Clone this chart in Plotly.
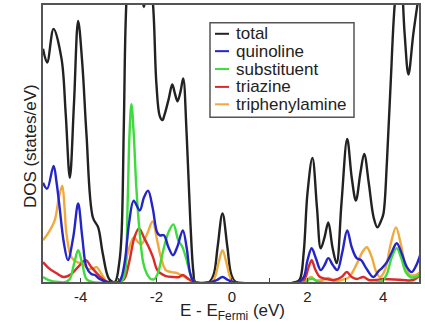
import plotly.graph_objects as go

# ---------------- data ----------------
series_names = ["total", "quinoline", "substituent", "triazine", "triphenylamine"]
series_colors = ["#222222", "#2424c8", "#3ddc3d", "#dc2a2a", "#f2a93b"]

E_total = [-5.0, -4.89, -4.72, -4.51, -4.40, -4.29, -4.18, -4.07, -3.96, -3.85, -3.68, -3.54,
           -3.42, -3.25, -3.10, -2.98, -2.92, -2.86, -2.79, -2.60, -2.45, -2.33, -2.22, -2.09,
           -2.00, -1.91, -1.84, -1.78, -1.67, -1.58, -1.51, -1.44, -1.36, -1.29, -1.20, -1.10,
           -1.02, -0.97, -0.60, -0.48, -0.38, -0.25, -0.12, -0.02, 0.10, 1.70, 1.80, 1.90,
           2.00, 2.13, 2.25, 2.35, 2.45, 2.55, 2.66, 2.77, 2.90, 3.05, 3.17, 3.28, 3.40, 3.50,
           3.62, 3.75, 3.85, 3.95, 4.01, 4.10, 4.20, 4.32, 4.45, 4.57, 4.67, 4.80, 4.93]
dos_total = [235, 221, 255, 225, 170, 105, 180, 263, 220, 149, 65, 55,
             29, 3, 0, 20, 49, 160, 285, 380, 320, 277, 320, 280,
             200, 167, 163, 169, 185, 199, 190, 182, 192, 205, 150, 60,
             10, 0, 0, 8, 35, 69, 35, 8, 0, 0, 3, 30,
             90, 125, 75, 34, 45, 60, 35, 19, 80, 144, 105, 82, 110, 129,
             100, 65, 55, 62, 69, 120, 200, 285, 320, 250, 209, 250, 285]

E_quin = [-5.0, -4.89, -4.72, -4.64, -4.56, -4.45, -4.34, -4.20, -4.07, -3.96, -3.85, -3.72,
          -3.63, -3.50, -3.30, -3.00, -2.92, -2.83, -2.72, -2.60, -2.44, -2.33, -2.22, -2.10,
          -1.98, -1.91, -1.80, -1.68, -1.56, -1.45, -1.30, -1.20, -1.10, -1.00, -0.55, -0.40,
          -0.25, -0.10, 0.05, 1.75, 1.90, 2.00, 2.11, 2.22, 2.35, 2.45, 2.55, 2.67, 2.79, 2.92,
          3.05, 3.17, 3.30, 3.42, 3.55, 3.74, 3.88, 3.97, 4.10, 4.23, 4.36, 4.50, 4.63, 4.76,
          4.88, 4.98]
dos_quin = [100, 94, 117, 100, 75, 40, 22, 45, 79, 45, 15, 8,
            7, 3, 0, 0, 5, 22, 60, 82, 72, 85, 92, 75,
            50, 47, 47, 35, 27, 35, 52, 35, 8, 0, 0, 2,
            5, 2, 0, 0, 5, 22, 34, 24, 12, 17, 24, 17, 12, 30,
            52, 35, 24, 22, 14, 5, 11, 14, 20, 30, 39, 28, 15, 10,
            17, 27]

E_subst = [-5.0, -4.85, -4.60, -4.40, -4.29, -4.18, -4.07, -3.96, -3.85, -3.70, -3.00, -2.90,
           -2.83, -2.76, -2.71, -2.66, -2.60, -2.53, -2.44, -2.35, -2.26, -2.15, -2.05, -1.95,
           -1.83, -1.68, -1.55, -1.42, -1.32, -1.22, -1.10, -1.00, 1.95, 2.05, 2.15, 2.30,
           3.90, 4.00, 4.10, 4.23, 4.36, 4.48, 4.60, 4.72, 4.85, 4.98]
dos_subst = [5, 2, 0, 0, 3, 18, 32, 18, 3, 0, 0, 2,
             9, 80, 150, 179, 150, 95, 49, 20, 9, 3, 3, 10,
             30, 50, 58, 42, 36, 25, 8, 0, 0, 3, 3, 0,
             0, 2, 8, 25, 34, 24, 10, 5, 5, 8]

E_triaz = [-5.0, -4.85, -4.65, -4.45, -4.25, -4.05, -3.87, -3.72, -3.58, -3.45, -3.30, -3.00,
           -2.85, -2.72, -2.58, -2.46, -2.33, -2.20, -2.09, -1.99, -1.90, -1.75, -1.55, -1.40,
           -1.30, -1.15, -1.00, 1.85, 1.95, 2.03, 2.11, 2.20, 2.33, 2.50, 2.70, 2.90, 3.04,
           3.17, 3.30, 3.48, 3.62, 3.80, 4.00, 4.50, 4.80, 4.98]
dos_triaz = [20, 14, 9, 5, 8, 16, 22, 15, 9, 4, 0, 0,
             3, 20, 45, 54, 45, 35, 25, 13, 9, 6, 5, 5,
             7, 3, 0, 0, 5, 15, 22, 13, 5, 3, 2, 5, 10,
             5, 3, 5, 2, 2, 3, 2, 2, 7]

E_triph = [-5.0, -4.85, -4.69, -4.58, -4.49, -4.43, -4.38, -4.25, -4.10, -3.95, -3.80, -3.65,
           -3.58, -3.45, -3.30, -3.00, -2.90, -2.75, -2.60, -2.48, -2.40, -2.25, -2.10, -1.98,
           -1.88, -1.75, -1.60, -1.45, -1.30, -1.15, -1.00, -0.55, -0.45, -0.35, -0.25, -0.15,
           -0.05, 0.05, 1.85, 2.00, 2.10, 2.20, 2.40, 2.55, 2.70, 2.90, 3.10, 3.30, 3.45, 3.57,
           3.70, 3.82, 3.92, 4.05, 4.20, 4.34, 4.47, 4.60, 4.72, 4.85, 4.98]
dos_triph = [42, 50, 62, 85, 97, 75, 49, 25, 20, 19, 13, 14,
             15, 8, 0, 0, 5, 30, 45, 40, 38, 48, 61, 42,
             25, 12, 10, 9, 6, 3, 0, 0, 5, 20, 32, 20,
             5, 0, 0, 3, 5, 2, 2, 4, 1, 2, 5, 18, 30, 35,
             25, 10, 5, 12, 38, 55, 38, 15, 7, 7, 10]

x_tick_vals = [-4, -2, 0, 2, 4]
x_tick_text = ["-4", "-2", "0", "2", "4"]

series_x = [E_total, E_quin, E_subst, E_triaz, E_triph]
series_y = [dos_total, dos_quin, dos_subst, dos_triaz, dos_triph]

# ---------------- figure ----------------
fig = go.Figure()
draw_order = [0, 4, 3, 2, 1]
for i in draw_order:
    fig.add_trace(go.Scatter(
        x=series_x[i], y=series_y[i], mode="lines", name=series_names[i],
        line=dict(color=series_colors[i], width=2.4, shape="spline", smoothing=1.0),
        showlegend=False, hoverinfo="skip"))

FONT = "Liberation Sans, Arial, sans-serif"
fig.update_layout(
    width=425, height=325,
    margin=dict(l=43, r=6, t=3, b=43),
    paper_bgcolor="white", plot_bgcolor="white",
    font=dict(family=FONT, color="#222222"),
    xaxis=dict(range=[-5.0, 4.95], tickmode="array", tickvals=x_tick_vals, ticktext=x_tick_text,
               ticks="inside", ticklen=4, tickwidth=1.2, tickcolor="#444",
               minor=dict(tickmode="linear", tick0=0, dtick=1, ticks="inside", ticklen=4,
                          tickwidth=1.2, tickcolor="#444", showgrid=False),
               showline=True, mirror=True, linecolor="#555", linewidth=1.6,
               showgrid=False, zeroline=False, tickfont=dict(size=15, color="#222")),
    yaxis=dict(range=[0, 279], showticklabels=False, ticks="",
               showline=True, mirror=True, linecolor="#555", linewidth=1.6,
               showgrid=False, zeroline=False),
)

# axis titles
fig.add_annotation(xref="paper", yref="paper", x=0.505, y=-0.062, xanchor="center", yanchor="top",
                   text="E - E<sub>Fermi</sub> (eV)", showarrow=False,
                   font=dict(size=17, family=FONT, color="#222"))
fig.add_annotation(xref="paper", yref="paper", x=-0.035, y=0.49, xanchor="center", yanchor="middle",
                   text="DOS (states/eV)", textangle=-90, showarrow=False,
                   font=dict(size=17, family=FONT, color="#222"))

# legend (manual, to match short sample lines)
def px2x(px):
    return (px - 43) / 376.0

def py2y(py):
    return (282 - py) / 279.0

fig.add_shape(type="rect", xref="paper", yref="paper",
              x0=px2x(210), x1=px2x(354), y0=py2y(116), y1=py2y(21),
              line=dict(color="#555", width=1.5), fillcolor="white", layer="above")
rows = [32, 49.5, 67.5, 85.5, 103]
for name, col, ry in zip(series_names, series_colors, rows):
    fig.add_shape(type="line", xref="paper", yref="paper",
                  x0=px2x(215), x1=px2x(229), y0=py2y(ry), y1=py2y(ry),
                  line=dict(color=col, width=2), layer="above")
    fig.add_annotation(xref="paper", yref="paper", x=px2x(234), y=py2y(ry),
                       xanchor="left", yanchor="middle", text=name, showarrow=False,
                       font=dict(size=17, family=FONT, color="#222"))

fig.write_html("out.html")
